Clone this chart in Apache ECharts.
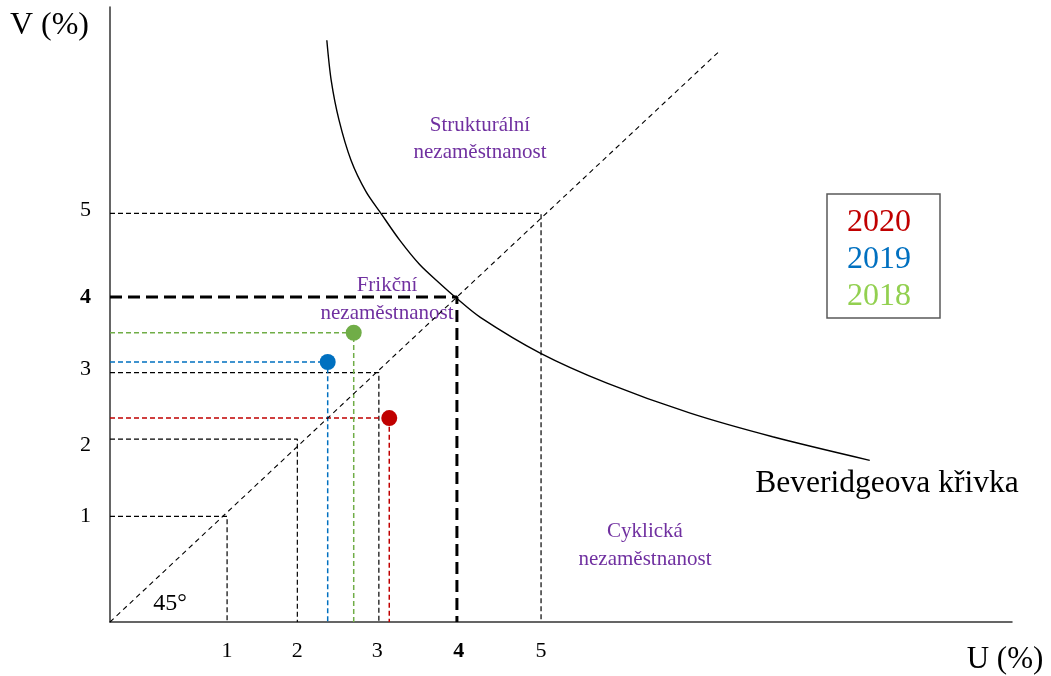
<!DOCTYPE html>
<html>
<head>
<meta charset="utf-8">
<script src="https://cdn.jsdelivr.net/npm/echarts@6/dist/echarts.min.js"></script>
<style>
html, body { margin: 0; padding: 0; background: #fff; }
#chart { width: 1051px; height: 676px; }
</style>
</head>
<body>
<div id="chart"></div>
<script>
// tick labels and where they sit on each axis
var tickLabels = ['1', '2', '3', '4', '5'];
var xTickPos = [1.35, 2.16, 3.08, 4.02, 4.97];
var yTickPos = [1.30, 2.18, 3.11, 4.00, 5.07];

// points on the 45° line that get dashed guides (U, V)
var guideU = [1.35, 2.16, 3.10, 4.00, 4.97];
var guideV = [1.30, 2.25, 3.07, 4.00, 5.03];

// yearly observations
var years = ['2020', '2019', '2018'];
var yearU = [3.22, 2.51, 2.81];
var yearV = [2.51, 3.20, 3.56];

// Beveridge curve
var curveU = [2.50, 2.55, 2.64, 2.78, 2.95, 3.13, 3.34, 3.57, 3.80, 3.98, 4.27, 4.96, 5.73, 6.69, 7.64, 8.76];
var curveV = [7.16, 6.67, 6.18, 5.68, 5.30, 5.02, 4.70, 4.40, 4.17, 4.00, 3.75, 3.31, 2.94, 2.57, 2.28, 1.99];

// 45° line end
var diagEnd = 7.03;

var serif = "'Liberation Serif', 'Times New Roman', serif";
var yearLineColors = ['#C00000', '#0070C0', '#70AD47'];
var yearTextColors = ['#C00000', '#0070C0', '#92D050'];
var purple = '#7030A0';

function nearestIdx(arr, v) {
    var best = 0;
    for (var i = 1; i < arr.length; i++) {
        if (Math.abs(arr[i] - v) < Math.abs(arr[best] - v)) best = i;
    }
    return best;
}
function tickFmt(arr) {
    return function (v) {
        var lab = tickLabels[nearestIdx(arr, v)];
        return lab === '4' ? '{b|' + lab + '}' : lab;
    };
}

var series = [];

// 45° line
series.push({
    type: 'line', silent: true, symbol: 'none',
    data: [[0, 0], [diagEnd, diagEnd]],
    lineStyle: { color: '#000', width: 1.1, type: [5, 4] }
});

// black guides
for (var i = 0; i < guideU.length; i++) {
    var bold = tickLabels[i] === '4';
    series.push({
        type: 'line', silent: true, symbol: 'none',
        data: [[0, guideV[i]], [guideU[i], guideV[i]], [guideU[i], 0]],
        lineStyle: bold ? { color: '#000', width: 3, type: [12, 6] } : { color: '#000', width: 1.2, type: [5, 3] },
        z: 1
    });
}

// Beveridge curve
var curve = [];
for (var i = 0; i < curveU.length; i++) curve.push([curveU[i], curveV[i]]);
series.push({
    type: 'line', silent: true, symbol: 'none', smooth: 0.3,
    data: curve,
    lineStyle: { color: '#000', width: 1.4 }
});

// yearly points with their guides
for (var i = 0; i < years.length; i++) {
    series.push({
        name: years[i], type: 'line', silent: true, symbol: 'none',
        data: [[0, yearV[i]], [yearU[i], yearV[i]], [yearU[i], 0]],
        itemStyle: { color: yearLineColors[i] },
        lineStyle: { color: yearLineColors[i], width: 1.5, type: [5, 3] },
        z: 2
    });
    series.push({
        name: years[i], type: 'scatter', silent: true,
        data: [[yearU[i], yearV[i]]],
        symbolSize: 16,
        itemStyle: { color: yearLineColors[i], opacity: 1 },
        z: 3
    });
}

var legendData = [];
for (var i = 0; i < years.length; i++) {
    legendData.push({ name: years[i], textStyle: { color: yearTextColors[i] } });
}

var myChart = echarts.init(document.getElementById('chart'));
var option = {
    animation: false,
    grid: { left: 110, right: 39, top: 7, bottom: 54 },
    legend: {
        data: legendData,
        orient: 'vertical',
        left: 827, top: 194,
        icon: 'none', itemWidth: 0, itemHeight: 0, itemGap: 3,
        padding: [12, 29, 4, 15],
        borderColor: '#595959', borderWidth: 1.5,
        textStyle: { fontFamily: serif, fontSize: 32, lineHeight: 34 }
    },
    xAxis: {
        type: 'value', min: 0, max: 10.4,
        name: 'U (%)', nameLocation: 'end', nameGap: -7,
        nameTextStyle: { fontFamily: serif, fontSize: 31, color: '#000', align: 'center', verticalAlign: 'top', padding: [22, 0, 0, 0] },
        axisLine: { show: true, onZero: false, lineStyle: { color: '#333', width: 1.5 } },
        axisTick: { show: false },
        splitLine: { show: false },
        axisLabel: {
            customValues: xTickPos, formatter: tickFmt(xTickPos), margin: 18,
            fontFamily: serif, fontSize: 22, color: '#000',
            rich: { b: { fontFamily: serif, fontSize: 22, fontWeight: 'bold', color: '#000' } }
        }
    },
    yAxis: {
        type: 'value', min: 0, max: 7.57,
        name: 'V (%)', nameLocation: 'end', nameGap: -19,
        nameTextStyle: { fontFamily: serif, fontSize: 32, color: '#000', align: 'right', verticalAlign: 'middle', padding: [0, 21, 0, 0] },
        axisLine: { show: true, onZero: false, lineStyle: { color: '#333', width: 1.5 } },
        axisTick: { show: false },
        splitLine: { show: false },
        axisLabel: {
            customValues: yTickPos, formatter: tickFmt(yTickPos), margin: 19,
            fontFamily: serif, fontSize: 22, color: '#000',
            rich: { b: { fontFamily: serif, fontSize: 22, fontWeight: 'bold', color: '#000' } }
        }
    },
    graphic: [
        { type: 'text', style: { text: 'Strukturální\nnezaměstnanost', x: 480, y: 139, align: 'center', verticalAlign: 'middle', fill: purple, fontFamily: serif, fontSize: 21, lineHeight: 27 } },
        { type: 'text', style: { text: 'Frikční\nnezaměstnanost', x: 387, y: 299, align: 'center', verticalAlign: 'middle', fill: purple, fontFamily: serif, fontSize: 21, lineHeight: 28 } },
        { type: 'text', style: { text: 'Cyklická\nnezaměstnanost', x: 645, y: 545, align: 'center', verticalAlign: 'middle', fill: purple, fontFamily: serif, fontSize: 21, lineHeight: 28 } },
        { type: 'text', style: { text: 'Beveridgeova křivka', x: 887, y: 484, align: 'center', verticalAlign: 'middle', fill: '#000', fontFamily: serif, fontSize: 31.5 } },
        { type: 'text', style: { text: '45°', x: 170, y: 604, align: 'center', verticalAlign: 'middle', fill: '#000', fontFamily: serif, fontSize: 24 } }
    ],
    series: series
};
myChart.setOption(option);
</script>
</body>
</html>
